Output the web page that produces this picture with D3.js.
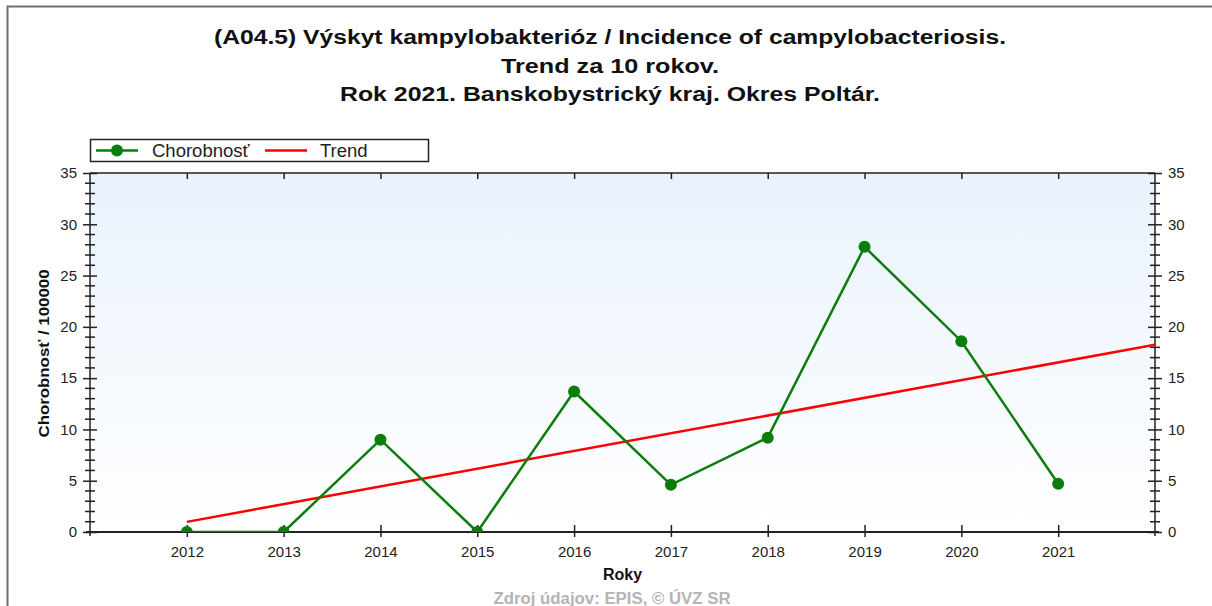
<!DOCTYPE html>
<html>
<head>
<meta charset="utf-8">
<script src="https://cdn.jsdelivr.net/npm/d3@7"></script>
<style>
  html, body { margin: 0; padding: 0; background: #fff; }
  svg { display: block; font-family: "Liberation Sans", Arial, sans-serif; }
</style>
</head>
<body>
<svg id="chart" width="1212" height="606"></svg>
<script>
// Incidence per 100 000 inhabitants, Poltár district
const years = [2012, 2013, 2014, 2015, 2016, 2017, 2018, 2019, 2020, 2021];
const incidence = [0, 0, 9.0, 0, 13.7, 4.6, 9.2, 27.8, 18.6, 4.7];
const yTicks = [0, 5, 10, 15, 20, 25, 30, 35];
const titleLines = [
  "(A04.5) Výskyt kampylobakterióz / Incidence of campylobacteriosis.",
  "Trend za 10 rokov.",
  "Rok 2021. Banskobystrický kraj. Okres Poltár."
];
const titleWidths = [792, 218, 540];
const seriesNames = ["Chorobnosť", "Trend"];

const svg = d3.select("#chart");
const W = 1212, H = 606;
const plot = { left: 90, right: 1155, top: 173, bottom: 532 };

const x = d3.scaleLinear().domain([2011, 2022]).range([plot.left, plot.right]);
const y = d3.scaleLinear().domain([0, 35]).range([plot.bottom, plot.top]);

// Least-squares trend over the ten years, extended to the right edge
const mx = d3.mean(years), my = d3.mean(incidence);
const slope = d3.sum(years, (v, i) => (v - mx) * (incidence[i] - my)) / d3.sum(years, v => (v - mx) ** 2);
const icpt = my - slope * mx;
const trend = [2012, 2022].map(v => ({ x: v, y: icpt + slope * v }));

// Outer frame
svg.append("rect").attr("x", 7.5).attr("y", 6.5).attr("width", W + 10).attr("height", H + 10)
  .attr("fill", "none").attr("stroke", "#707070").attr("stroke-width", 2);

// Titles
svg.append("g").selectAll("text").data(titleLines).join("text")
  .attr("x", 610).attr("y", (d, i) => 44 + i * 28.5)
  .attr("text-anchor", "middle").attr("font-size", 19.5).attr("font-weight", "bold").attr("fill", "#111")
  .attr("textLength", (d, i) => titleWidths[i]).attr("lengthAdjust", "spacingAndGlyphs")
  .text(d => d);

// Plot background gradient
const defs = svg.append("defs");
const grad = defs.append("linearGradient").attr("id", "bg").attr("x1", 0).attr("y1", 0).attr("x2", 0).attr("y2", 1);
grad.append("stop").attr("offset", "0%").attr("stop-color", "#e8f2fc");
grad.append("stop").attr("offset", "100%").attr("stop-color", "#ffffff");
defs.append("clipPath").attr("id", "clip").append("rect")
  .attr("x", plot.left).attr("y", plot.top).attr("width", plot.right - plot.left).attr("height", plot.bottom - plot.top);

svg.append("rect").attr("x", plot.left).attr("y", plot.top)
  .attr("width", plot.right - plot.left).attr("height", plot.bottom - plot.top)
  .attr("fill", "url(#bg)");

// Axes
const axisColor = "#222";
const minor = d3.range(0, 36, 1);

function yAxis(side) {
  const g = svg.append("g").attr("transform", `translate(${side === "left" ? plot.left : plot.right},0)`);
  const gen = side === "left" ? d3.axisLeft(y) : d3.axisRight(y);
  g.call(gen.tickValues(yTicks).tickSize(7).tickPadding(6).tickFormat(d3.format("d")));
  g.select(".domain").remove();
  g.selectAll(".tick line").attr("x1", side === "left" ? 7 : -7).attr("x2", side === "left" ? -7 : 7)
    .attr("stroke", axisColor).attr("stroke-width", 1.5);
  g.selectAll(".tick text").attr("font-size", 15).attr("fill", "#222");
  g.append("g").selectAll("line").data(minor.filter(v => v % 5 !== 0)).join("line")
    .attr("x1", -5).attr("x2", 5).attr("y1", d => y(d)).attr("y2", d => y(d))
    .attr("stroke", axisColor).attr("stroke-width", 1.5);
  g.append("line").attr("y1", plot.top).attr("y2", plot.bottom + 4)
    .attr("stroke", axisColor).attr("stroke-width", 1.5);
}
yAxis("left");
yAxis("right");

const xb = svg.append("g").attr("transform", `translate(0,${plot.bottom})`)
  .call(d3.axisBottom(x).tickValues(years).tickSize(5).tickPadding(9).tickFormat(d3.format("d")));
xb.select(".domain").remove();
xb.selectAll(".tick line").attr("y1", -7).attr("y2", 5).attr("stroke", axisColor).attr("stroke-width", 1.5);
xb.selectAll(".tick text").attr("font-size", 15).attr("fill", "#222");
xb.append("line").attr("x1", plot.left - 4).attr("x2", plot.right + 4).attr("stroke", axisColor).attr("stroke-width", 2);

const xt = svg.append("g").attr("transform", `translate(0,${plot.top})`)
  .call(d3.axisTop(x).tickValues(years).tickSize(0).tickFormat(""));
xt.select(".domain").remove();
xt.selectAll(".tick line").attr("y1", 0).attr("y2", 6).attr("stroke", axisColor).attr("stroke-width", 1.5);
xt.append("line").attr("x1", plot.left).attr("x2", plot.right).attr("stroke", axisColor).attr("stroke-width", 1.5);

// Axis titles
svg.append("text").attr("transform", `translate(49,${(plot.top + plot.bottom) / 2 + 1}) rotate(-90)`)
  .attr("text-anchor", "middle").attr("font-size", 15).attr("font-weight", "bold").attr("fill", "#111")
  .attr("textLength", 168).attr("lengthAdjust", "spacingAndGlyphs")
  .text("Chorobnosť / 100000");
svg.append("text").attr("x", (plot.left + plot.right) / 2).attr("y", 580)
  .attr("text-anchor", "middle").attr("font-size", 16).attr("font-weight", "bold").attr("fill", "#111")
  .text("Roky");
svg.append("text").attr("x", 612).attr("y", 604)
  .attr("text-anchor", "middle").attr("font-size", 16).attr("font-weight", "bold").attr("fill", "#b4b4b4")
  .attr("textLength", 237).attr("lengthAdjust", "spacingAndGlyphs")
  .text("Zdroj údajov: EPIS, © ÚVZ SR");

// Series
const marks = svg.append("g").attr("clip-path", "url(#clip)");
marks.append("path").datum(trend)
  .attr("d", d3.line().x(d => x(d.x)).y(d => y(d.y)))
  .attr("fill", "none").attr("stroke", "#ff0000").attr("stroke-width", 2.5);

const green = "#0a7d0a";
const pts = years.map((v, i) => ({ x: v, y: incidence[i] }));
marks.append("path").datum(pts)
  .attr("d", d3.line().x(d => x(d.x)).y(d => y(d.y)))
  .attr("fill", "none").attr("stroke", green).attr("stroke-width", 2.5);
marks.append("g").selectAll("circle").data(pts).join("circle")
  .attr("cx", d => x(d.x)).attr("cy", d => y(d.y)).attr("r", 6).attr("fill", green);

// Legend
const lg = svg.append("g");
lg.append("rect").attr("x", 90.5).attr("y", 139.5).attr("width", 338).attr("height", 22)
  .attr("fill", "#fff").attr("stroke", "#222").attr("stroke-width", 1.5);
lg.append("line").attr("x1", 96).attr("x2", 138).attr("y1", 150.5).attr("y2", 150.5)
  .attr("stroke", green).attr("stroke-width", 2.5);
lg.append("circle").attr("cx", 117).attr("cy", 150.5).attr("r", 6).attr("fill", green);
lg.append("text").attr("x", 152).attr("y", 157).attr("font-size", 18.5).attr("fill", "#222").text(seriesNames[0]);
lg.append("line").attr("x1", 265).attr("x2", 307).attr("y1", 150.5).attr("y2", 150.5)
  .attr("stroke", "#ff0000").attr("stroke-width", 2.5);
lg.append("text").attr("x", 320).attr("y", 157).attr("font-size", 18.5).attr("fill", "#222").text(seriesNames[1]);
</script>
</body>
</html>
